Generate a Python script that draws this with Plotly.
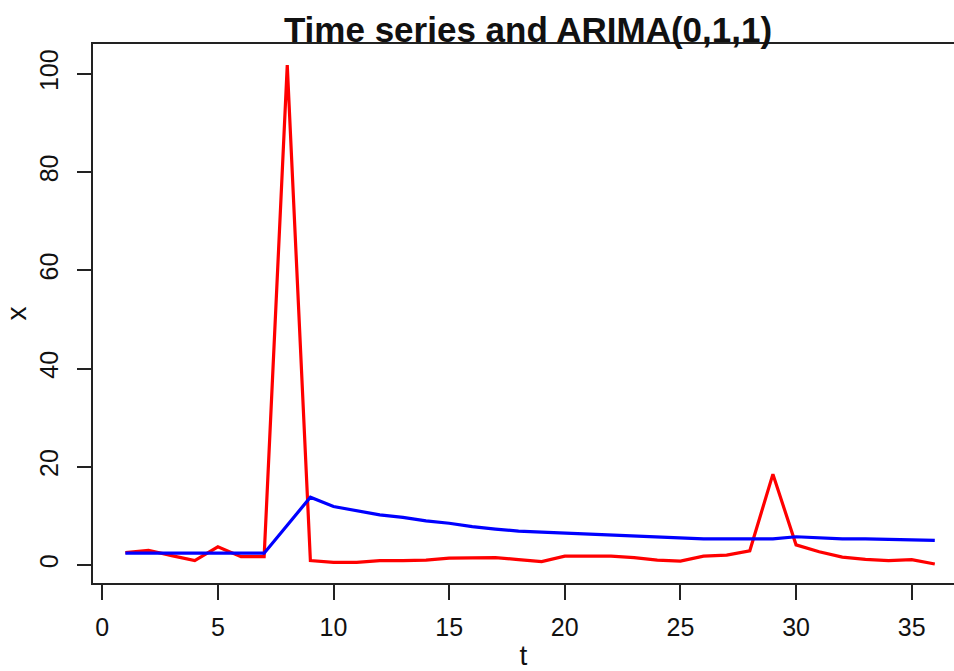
import plotly.graph_objects as go

# observed series and ARIMA(0,1,1) fitted values, t = 1..36
t = list(range(1, 37))
series = [2.5, 3.0, 1.9, 0.9, 3.7, 1.7, 1.7, 101.8, 0.9, 0.55, 0.55, 0.9,
          0.9, 1.0, 1.4, 1.4, 1.5, 1.1, 0.7, 1.8, 1.8, 1.8, 1.5, 1.0,
          0.8, 1.8, 2.0, 2.9, 18.5, 4.1, 2.7, 1.6, 1.15, 0.9, 1.1, 0.2]
fitted = [2.4, 2.4, 2.4, 2.4, 2.4, 2.4, 2.4, 8.1, 13.8, 11.9, 11.0, 10.2,
          9.7, 9.0, 8.5, 7.8, 7.3, 6.9, 6.7, 6.5, 6.2, 6.0, 5.8, 5.6,
          5.4, 5.3, 5.3, 5.3, 5.3, 5.75, 5.5, 5.3, 5.3, 5.2, 5.0, 5.0]

x_ticks = [0, 5, 10, 15, 20, 25, 30, 35]
y_ticks = [0, 20, 40, 60, 80, 100]

FONT = "Liberation Sans, Arial, sans-serif"
AXIS_COLOR = "#222222"

fig = go.Figure()
fig.add_trace(go.Scatter(x=t, y=series, mode="lines",
                         line=dict(color="#ff0000", width=3.2)))
fig.add_trace(go.Scatter(x=t, y=fitted, mode="lines",
                         line=dict(color="#0000ff", width=3.2)))

fig.update_layout(
    width=954, height=671,
    margin=dict(l=93, r=0, t=44, b=88),
    paper_bgcolor="white", plot_bgcolor="white",
    showlegend=False,
    font=dict(family=FONT, color="#111"),
    title=dict(text="<b>Time series and ARIMA(0,1,1)</b>",
               font=dict(size=35, family=FONT, color="#111"),
               x=528 / 954, xref="container", xanchor="center",
               y=1 - 30 / 671, yref="container", yanchor="middle"),
)

fig.update_xaxes(
    range=[-0.40, 36.83], tickvals=x_ticks, ticktext=[str(v) for v in x_ticks],
    showgrid=False, zeroline=False,
    showline=True, linecolor=AXIS_COLOR, linewidth=2, mirror=True,
    ticks="outside", ticklen=15, tickwidth=2, tickcolor=AXIS_COLOR,
    tickfont=dict(size=25, family=FONT, color="#111"),
    ticklabelstandoff=6,
    title=dict(text="t", font=dict(size=28, family=FONT, color="#111"), standoff=9),
)
fig.update_yaxes(
    range=[-3.67, 106.1], tickvals=y_ticks, ticktext=[str(v) for v in y_ticks],
    showgrid=False, zeroline=False,
    showline=True, linecolor=AXIS_COLOR, linewidth=2, mirror=False,
    ticks="outside", ticklen=14, tickwidth=2, tickcolor=AXIS_COLOR,
    tickangle=-90,
    tickfont=dict(size=25, family=FONT, color="#111"),
    ticklabelstandoff=9,
    title=dict(text="x", font=dict(size=28, family=FONT, color="#111"), standoff=0),
)

fig.write_html("out.html")
